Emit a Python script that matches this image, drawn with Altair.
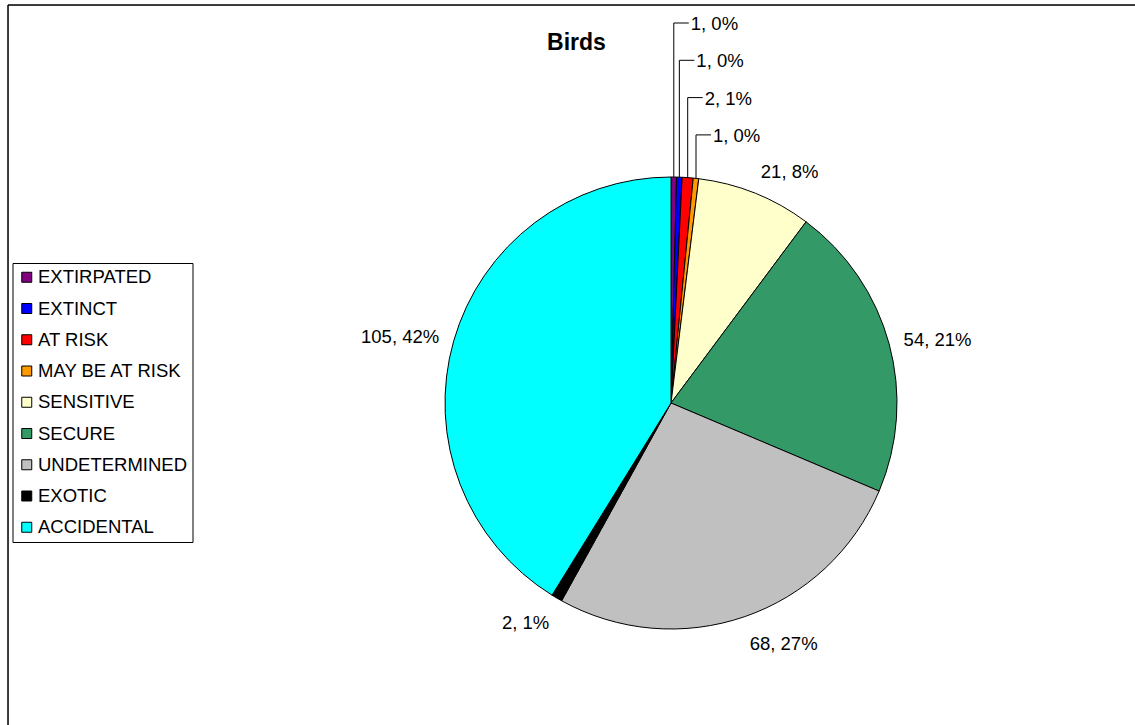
import altair as alt
import pandas as pd
import numpy as np

# ---- data ----
CATEGORIES = ["EXTIRPATED", "EXTINCT", "AT RISK", "MAY BE AT RISK", "SENSITIVE",
              "SECURE", "UNDETERMINED", "EXOTIC", "ACCIDENTAL"]
COUNTS = [1, 1, 2, 1, 21, 54, 68, 2, 105]
PERCENT_LABELS = ["0%", "0%", "1%", "0%", "8%", "21%", "27%", "1%", "42%"]
COLORS = ["#800080", "#0000FF", "#FF0000", "#FF9900", "#FFFFCC",
          "#339966", "#C0C0C0", "#000000", "#00FFFF"]
LEADER_CATEGORIES = ["EXTIRPATED", "EXTINCT", "AT RISK", "MAY BE AT RISK"]
TITLE = "Birds"

# ---- layout ----
PAD_L, PAD_T = 8, 5
W, H = 1127, 720
CX, CY, R = 663, 398, 226
LABEL_R = 241
HALF_H = 11
LEAD_TOP, LEAD_STEP, LEAD_ARM, LEAD_GAP = 18, 37.3, 15, 2
FONT = "Liberation Sans"
FS = 18.5

df = pd.DataFrame({"category": CATEGORIES, "value": COUNTS,
                   "order": list(range(len(CATEGORIES)))})
df["label"] = [f"{v}, {p}" for v, p in zip(COUNTS, PERCENT_LABELS)]
total = df["value"].sum()
cum = df["value"].cumsum()
df["mid"] = 2 * np.pi * (cum - df["value"] / 2) / total
s = np.sin(df["mid"])
c = np.cos(df["mid"])
df["ex"] = CX + R * s
df["ey"] = CY - R * c
df["lx"] = CX + LABEL_R * s
df["ly"] = CY - LABEL_R * c - HALF_H * c
df["side"] = np.where(s >= 0, "right", "left")

lead = df[df["category"].isin(LEADER_CATEGORIES)].copy().reset_index(drop=True)
lead["ty"] = LEAD_TOP + LEAD_STEP * np.arange(len(lead))
lead["tx"] = lead["ex"] + LEAD_ARM

rest = df[~df["category"].isin(LEADER_CATEGORIES)]
right = rest[rest["side"] == "right"]
left = rest[rest["side"] == "left"]

pie = alt.Chart(df).mark_arc(outerRadius=R, stroke="black", strokeWidth=1).encode(
    theta=alt.Theta("value:Q", stack=True),
    order=alt.Order("order:Q"),
    color=alt.Color(
        "category:N",
        sort=CATEGORIES,
        scale=alt.Scale(domain=CATEGORIES, range=COLORS),
        legend=alt.Legend(
            title=None, orient="none", legendX=4.5, legendY=258,
            strokeColor="black", fillColor="white", padding=5,
            symbolType="square", symbolSize=100, symbolStrokeColor="black",
            symbolStrokeWidth=1, labelFont=FONT, labelFontSize=FS,
            labelColor="black", labelOffset=2, rowPadding=12.25, labelLimit=400,
        ),
    ),
    x=alt.value(CX),
    y=alt.value(CY),
)

XP = dict(scale=None, axis=None)

vlines = alt.Chart(lead).mark_rule(stroke="black", strokeWidth=1).encode(
    x=alt.X("ex:Q", **XP), y=alt.Y("ey:Q", **XP), y2="ty:Q")
hlines = alt.Chart(lead).mark_rule(stroke="black", strokeWidth=1).encode(
    x=alt.X("ex:Q", **XP), x2="tx:Q", y=alt.Y("ty:Q", **XP))
lead_text = alt.Chart(lead).mark_text(
    align="left", baseline="middle", dx=LEAD_GAP, dy=1, font=FONT, fontSize=FS, color="black"
).encode(x=alt.X("tx:Q", **XP), y=alt.Y("ty:Q", **XP), text="label:N")

right_text = alt.Chart(right).mark_text(
    align="left", baseline="middle", dy=3, font=FONT, fontSize=FS, color="black"
).encode(x=alt.X("lx:Q", **XP), y=alt.Y("ly:Q", **XP), text="label:N")
left_text = alt.Chart(left).mark_text(
    align="right", baseline="middle", dy=3, font=FONT, fontSize=FS, color="black"
).encode(x=alt.X("lx:Q", **XP), y=alt.Y("ly:Q", **XP), text="label:N")

frame = alt.Chart(pd.DataFrame({"k": [0]}))
border_top = frame.mark_rule(stroke="black", strokeWidth=1.5).encode(
    x=alt.value(0), x2=alt.value(W + 20), y=alt.value(0))
border_left = frame.mark_rule(stroke="black", strokeWidth=1.5).encode(
    x=alt.value(0), y=alt.value(0), y2=alt.value(H + 20))

chart = alt.layer(
    pie, vlines, hlines, lead_text, right_text, left_text, border_top, border_left
).properties(
    width=W, height=H,
    padding={"left": PAD_L, "top": PAD_T, "right": 0, "bottom": 0},
    autosize=alt.AutoSizeParams(type="none"),
    title=alt.TitleParams(
        TITLE, font=FONT, fontSize=23, fontWeight="bold", color="black",
        anchor="middle", frame="group", baseline="alphabetic", offset=0, dx=5, dy=68.5,
    ),
).configure_view(stroke=None).configure(background="white")

chart.save("out.html", embed_options={"renderer": "svg", "actions": False})
